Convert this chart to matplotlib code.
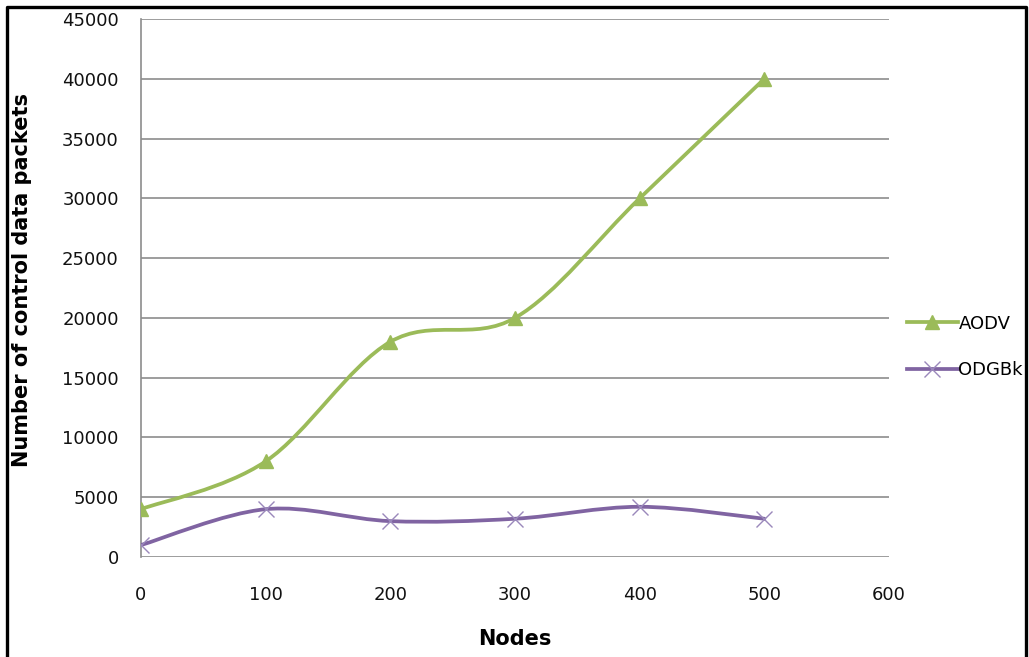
import numpy as np
import matplotlib
matplotlib.use('Agg')
import matplotlib.pyplot as plt
from matplotlib.path import Path
from matplotlib.patches import PathPatch
from matplotlib.lines import Line2D

nodes = [0, 100, 200, 300, 400, 500]
aodv = [4000, 8000, 18000, 20000, 30000, 40000]
odgbk = [1000, 4000, 3000, 3200, 4200, 3200]
series_names = ['AODV', 'ODGBk']
colors = ['#9BBB59', '#8064A2']
yticks = list(range(0, 45001, 5000))
xticks = list(range(0, 601, 100))

plt.rcParams['font.family'] = ['DejaVu Sans']


def smooth_path(x, y):
    # excel-like smoothed line: cubic bezier through the points
    x = np.asarray(x, float)
    y = np.asarray(y, float)
    pts = np.column_stack([x, y])
    n = len(pts)
    verts = [pts[0]]
    codes = [Path.MOVETO]
    for i in range(n - 1):
        p0 = pts[i - 1] if i > 0 else pts[i]
        p1 = pts[i]
        p2 = pts[i + 1]
        p3 = pts[i + 2] if i + 2 < n else pts[i + 1]
        c1 = p1 + (p2 - p0) / 6.0
        c2 = p2 - (p3 - p1) / 6.0
        verts += [c1, c2, p2]
        codes += [Path.CURVE4] * 3
    return Path(verts, codes)


fig = plt.figure(figsize=(10.29, 6.57), dpi=100)
ax = fig.add_axes([141 / 1029, 1 - 557 / 657, (889 - 141) / 1029, (557 - 19) / 657])

ax.set_xlim(0, 600)
ax.set_ylim(0, 45000)
for v in yticks:
    ax.axhline(v, color='#8c8c8c', lw=1.2, zorder=1)

handles = []
for ys, name, c, mk in zip([aodv, odgbk], series_names, colors, ['^', 'x']):
    ax.add_patch(PathPatch(smooth_path(nodes, ys), fill=False, edgecolor=c,
                           lw=2.7, capstyle='round', zorder=3))
    if mk == '^':
        ax.plot(nodes, ys, ls='none', marker='^', ms=10, color=c, zorder=4)
        h = Line2D([], [], color=c, lw=2.7, marker='^', ms=10)
    else:
        ax.plot(nodes, ys, ls='none', marker='x', ms=11, mew=1.0,
                color='#9a88bb', zorder=4)
        h = Line2D([], [], color=c, lw=2.7, marker='x', ms=11, mew=1.0,
                   markeredgecolor='#9a88bb')
    handles.append(h)

ax.set_xticks(xticks)
ax.set_yticks(yticks)
ax.tick_params(length=0, labelsize=13, labelcolor='#111111')
ax.tick_params(axis='x', pad=21)
ax.tick_params(axis='y', pad=16)
for s in ['top', 'right', 'bottom']:
    ax.spines[s].set_visible(False)
ax.spines['left'].set_color('#8c8c8c')
ax.spines['left'].set_linewidth(1.2)

fig.text(515 / 1029, 1 - 639 / 657, 'Nodes', fontsize=15, fontweight='bold',
         ha='center', va='center')
fig.text(22 / 1029, 1 - 280 / 657, 'Number of control data packets', fontsize=15,
         fontweight='bold', rotation=90, ha='center', va='center')

fig.legend(handles, series_names, loc='center left',
           bbox_to_anchor=(898 / 1029, 1 - 347 / 657), frameon=False,
           fontsize=13, handlelength=2.8, handletextpad=0.05, labelspacing=1.6,
           borderpad=0)

# outer frame (open at the bottom)
fig.add_artist(Line2D([7 / 1029, 7 / 1029, 1026 / 1029, 1026 / 1029],
                      [0, 1 - 7 / 657, 1 - 7 / 657, 0],
                      transform=fig.transFigure, color='black', lw=2.4))

fig.savefig('out.png', dpi=100)
